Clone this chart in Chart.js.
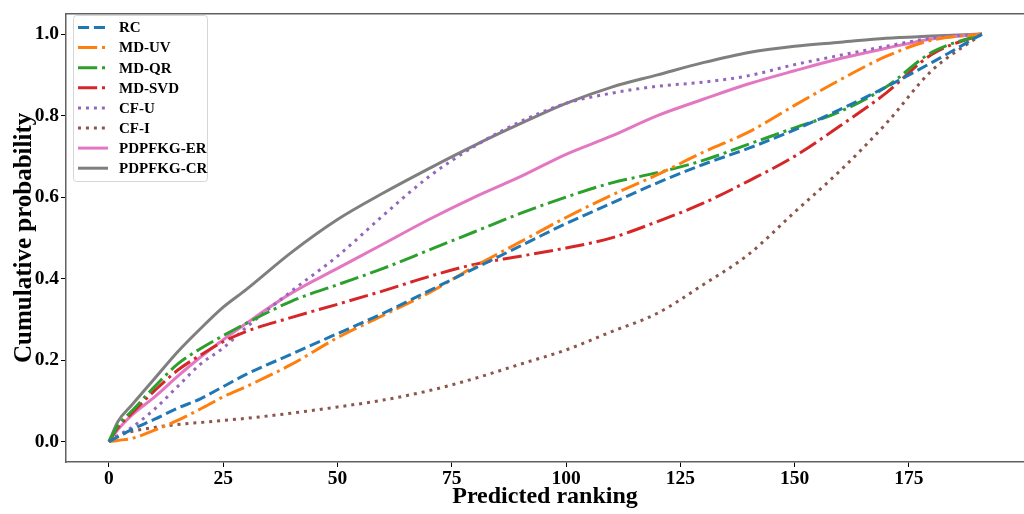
<!DOCTYPE html>
<html>
<head>
<meta charset="utf-8">
<script src="https://cdn.jsdelivr.net/npm/chart.js@4.4.1/dist/chart.umd.min.js"></script>
<style>
    html, body { margin: 0; padding: 0; background: #fff; overflow: hidden; }
    #cdfChart { display: block; }
</style>
</head>
<body>
<canvas id="cdfChart" width="1024" height="514"></canvas>
<script>
// Predicted ranking positions
const ranks = [0, 2, 5, 10, 15, 20, 25, 30, 40, 50, 60, 70, 80, 90, 100, 110, 120, 130, 140, 150, 160, 170, 180, 191];

// Cumulative probability per method
const rc        = [0, 0.012, 0.03, 0.055, 0.082, 0.105, 0.135, 0.165, 0.215, 0.265, 0.315, 0.37, 0.425, 0.48, 0.535, 0.585, 0.635, 0.68, 0.72, 0.765, 0.815, 0.87, 0.93, 1.0];
const mdUv      = [0, 0.003, 0.008, 0.028, 0.052, 0.08, 0.11, 0.135, 0.19, 0.255, 0.31, 0.365, 0.43, 0.49, 0.55, 0.605, 0.655, 0.71, 0.76, 0.825, 0.888, 0.945, 0.985, 1.0];
const mdQr      = [0, 0.04, 0.075, 0.135, 0.19, 0.228, 0.26, 0.29, 0.345, 0.385, 0.425, 0.47, 0.515, 0.56, 0.60, 0.635, 0.66, 0.69, 0.73, 0.77, 0.81, 0.87, 0.955, 1.0];
const mdSvd     = [0, 0.035, 0.07, 0.125, 0.175, 0.212, 0.245, 0.27, 0.305, 0.337, 0.37, 0.405, 0.435, 0.455, 0.475, 0.50, 0.54, 0.585, 0.64, 0.70, 0.775, 0.855, 0.95, 1.0];
const cfU       = [0, 0.015, 0.035, 0.08, 0.135, 0.19, 0.23, 0.28, 0.37, 0.455, 0.555, 0.65, 0.725, 0.785, 0.83, 0.855, 0.872, 0.882, 0.898, 0.925, 0.948, 0.97, 0.99, 1.0];
const cfI       = [0, 0.015, 0.025, 0.035, 0.042, 0.047, 0.052, 0.057, 0.07, 0.085, 0.102, 0.125, 0.155, 0.19, 0.225, 0.27, 0.315, 0.385, 0.46, 0.563, 0.665, 0.78, 0.91, 1.0];
const pdpfkgEr  = [0, 0.03, 0.065, 0.11, 0.16, 0.207, 0.25, 0.29, 0.365, 0.425, 0.485, 0.545, 0.60, 0.65, 0.705, 0.75, 0.80, 0.84, 0.878, 0.91, 0.94, 0.965, 0.988, 1.0];
const pdpfkgCr  = [0, 0.05, 0.09, 0.155, 0.22, 0.277, 0.33, 0.373, 0.465, 0.545, 0.61, 0.67, 0.727, 0.78, 0.83, 0.87, 0.90, 0.93, 0.955, 0.97, 0.98, 0.99, 0.995, 1.0];

const seriesLabels = ['RC', 'MD-UV', 'MD-QR', 'MD-SVD', 'CF-U', 'CF-I', 'PDPFKG-ER', 'PDPFKG-CR'];
const seriesValues = [rc, mdUv, mdQr, mdSvd, cfU, cfI, pdpfkgEr, pdpfkgCr];

const xTicks = [0, 25, 50, 75, 100, 125, 150, 175];
const yTicks = [0, 0.2, 0.4, 0.6, 0.8, 1.0];

const colors = ['#1f77b4', '#ff7f0e', '#2ca02c', '#d62728', '#9467bd', '#8c564b', '#e377c2', '#7f7f7f'];
const LW = 3;
const dashed = [3.7 * LW, 1.6 * LW];
const dashDot = [6.4 * LW, 1.6 * LW, LW, 1.6 * LW];
const dotted = [LW, 1.65 * LW];
const dashes = [dashed, dashDot, dashDot, dashDot, dotted, dotted, [], []];

const serif = "'Liberation Serif', 'Times New Roman', serif";

const datasets = seriesLabels.map((label, i) => ({
    label: label,
    data: ranks.map((r, j) => ({ x: r, y: seriesValues[i][j] })),
    borderColor: colors[i],
    backgroundColor: colors[i],
    borderWidth: LW,
    borderDash: dashes[i],
    borderCapStyle: 'butt',
    pointRadius: 0,
    fill: false,
    cubicInterpolationMode: 'monotone'
}));

// top spine plus a matplotlib style legend box
const framePlugin = {
    id: 'framePlugin',
    afterDraw(chart) {
        const ctx = chart.ctx;
        const area = chart.chartArea;
        ctx.save();
        ctx.strokeStyle = '#606060';
        ctx.lineWidth = 1.5;
        ctx.beginPath();
        ctx.moveTo(area.left, area.top);
        ctx.lineTo(area.right, area.top);
        ctx.stroke();

        // legend
        const bx = 73.5, by = 15.5, bw = 134, bh = 166;
        ctx.fillStyle = 'rgba(255,255,255,0.85)';
        ctx.strokeStyle = '#d6d6d6';
        ctx.lineWidth = 1;
        ctx.beginPath();
        ctx.roundRect(bx, by, bw, bh, 3);
        ctx.fill();
        ctx.stroke();

        ctx.font = 'bold 15px ' + serif;
        ctx.textBaseline = 'middle';
        ctx.textAlign = 'left';
        chart.data.datasets.forEach((ds, i) => {
            const y = 27.5 + i * 20.1;
            ctx.strokeStyle = ds.borderColor;
            ctx.lineWidth = LW;
            ctx.lineCap = 'butt';
            ctx.setLineDash(ds.borderDash);
            ctx.beginPath();
            ctx.moveTo(78, y);
            ctx.lineTo(108, y);
            ctx.stroke();
            ctx.setLineDash([]);
            ctx.fillStyle = '#000';
            ctx.fillText(ds.label, 119, y + 1);
        });
        ctx.restore();
    }
};

const ctx = document.getElementById('cdfChart').getContext('2d');
new Chart(ctx, {
    type: 'line',
    data: { datasets: datasets },
    plugins: [framePlugin],
    options: {
        responsive: false,
        animation: false,
        devicePixelRatio: 1,
        layout: { padding: { top: 8, right: 0, left: 0, bottom: 0 } },
        plugins: {
            legend: { display: false },
            tooltip: { enabled: false }
        },
        scales: {
            x: {
                type: 'linear',
                min: -9.4,
                max: 200.2,
                afterBuildTicks(scale) {
                    scale.ticks = xTicks.map(v => ({ value: v }));
                },
                afterFit(scale) { scale.height = 52; },
                grid: { display: true, drawOnChartArea: false, drawTicks: true, tickLength: 5, color: '#000', lineWidth: 1 },
                border: { display: true, color: '#606060', width: 1.5 },
                ticks: {
                    color: '#000',
                    padding: 0,
                    maxRotation: 0,
                    font: { family: serif, size: 19.5, weight: 'bold' }
                },
                title: {
                    display: true,
                    text: 'Predicted ranking',
                    color: '#000',
                    padding: { top: 0, bottom: 3 },
                    font: { family: serif, size: 24, weight: 'bold' }
                }
            },
            y: {
                type: 'linear',
                min: -0.05,
                max: 1.05,
                afterBuildTicks(scale) {
                    scale.ticks = yTicks.map(v => ({ value: v }));
                },
                afterFit(scale) { scale.width = 66; },
                grid: { display: true, drawOnChartArea: false, drawTicks: true, tickLength: 5, color: '#000', lineWidth: 1 },
                border: { display: true, color: '#606060', width: 1.5 },
                ticks: {
                    color: '#000',
                    padding: 2,
                    font: { family: serif, size: 19.5, weight: 'bold' },
                    callback: v => v.toFixed(1)
                },
                title: {
                    display: true,
                    text: 'Cumulative probability',
                    color: '#000',
                    padding: { top: 10, bottom: 0 },
                    font: { family: serif, size: 25, weight: 'bold' }
                }
            }
        }
    }
});
</script>
</body>
</html>
